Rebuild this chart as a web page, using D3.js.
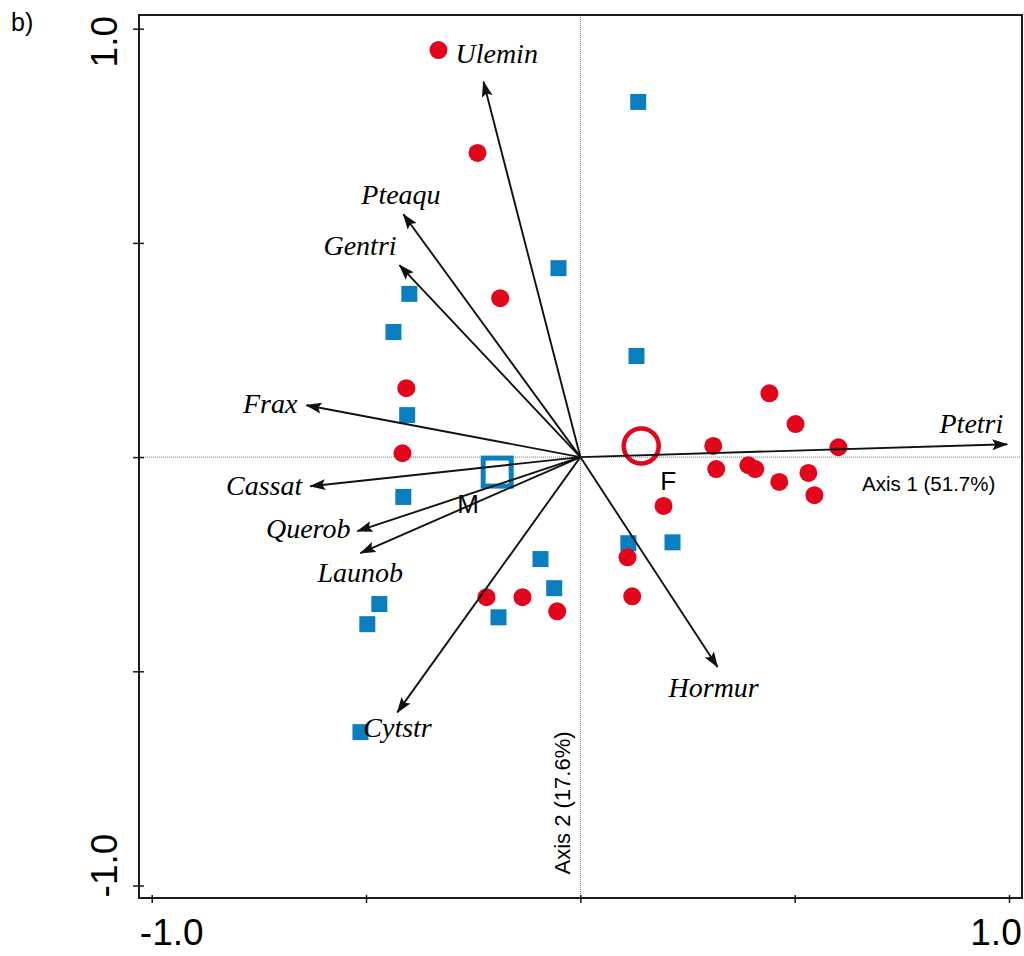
<!DOCTYPE html>
<html>
<head>
<meta charset="utf-8">
<script src="https://cdn.jsdelivr.net/npm/d3@7"></script>
<style>
  body { margin: 0; background: #fff; }
  svg { display: block; }
</style>
</head>
<body>
<svg id="chart" width="1024" height="956"></svg>
<script>
// species vectors (axis 1, axis 2)
const species = ["Ulemin", "Pteaqu", "Gentri", "Frax", "Cassat", "Querob", "Launob", "Cytstr", "Hormur", "Ptetri"];
const speciesX = [-0.226, -0.413, -0.422, -0.639, -0.630, -0.520, -0.513, -0.427, 0.320, 0.996];
const speciesY = [0.876, 0.567, 0.448, 0.121, -0.068, -0.173, -0.224, -0.596, -0.490, 0.030];

// plots, group F (red circles)
const fX = [-0.331, -0.240, -0.187, -0.406, -0.415, -0.219, -0.135, -0.054, 0.110, 0.121, 0.194,
            0.310, 0.317, 0.392, 0.408, 0.441, 0.502, 0.464, 0.532, 0.546, 0.602];
const fY = [0.950, 0.710, 0.371, 0.161, 0.009, -0.327, -0.327, -0.360, -0.234, -0.325, -0.114,
            0.026, -0.028, -0.019, -0.028, 0.149, 0.077, -0.058, -0.037, -0.089, 0.023];

// plots, group M (blue squares)
const mX = [0.135, -0.051, -0.399, -0.436, -0.404, 0.131, -0.413, 0.112, 0.215, -0.093, -0.061,
            -0.191, -0.469, -0.497, -0.513];
const mY = [0.829, 0.441, 0.381, 0.292, 0.098, 0.236, -0.093, -0.201, -0.199, -0.238, -0.306,
            -0.374, -0.343, -0.390, -0.642];

// group centroids
const centroids = [
  {name: "F", x: 0.142, y: 0.026},
  {name: "M", x: -0.194, y: -0.035}
];

const ticks = [-1, -0.5, 0, 0.5, 1];
const tickLabels = ["-1.0", "1.0"];

const red = "#e3051b";
const blue = "#0b7ec0";

const svg = d3.select("#chart");

const x = d3.scaleLinear().domain([-1, 1]).range([151.7, 1009]);
const y = d3.scaleLinear().domain([-1, 1]).range([885.5, 28.7]);

const frameL = 139, frameT = 15, frameR = 1022, frameB = 898;

svg.append("text")
    .attr("x", 11).attr("y", 31)
    .style("font-family", "Liberation Sans, Arial, sans-serif")
    .style("font-size", "25px")
    .text("b)");

// dotted zero lines
svg.append("line")
    .attr("x1", frameL).attr("x2", frameR)
    .attr("y1", y(0)).attr("y2", y(0))
    .attr("stroke", "#777").attr("stroke-width", 1).attr("stroke-dasharray", "1,1");
svg.append("line")
    .attr("x1", x(0)).attr("x2", x(0))
    .attr("y1", frameT).attr("y2", frameB)
    .attr("stroke", "#777").attr("stroke-width", 1).attr("stroke-dasharray", "1,1");

// frame
svg.append("rect")
    .attr("x", frameL).attr("y", frameT)
    .attr("width", frameR - frameL).attr("height", frameB - frameT)
    .attr("fill", "none").attr("stroke", "#1a1a1a").attr("stroke-width", 2);

// ticks
const yAxis = svg.append("g")
    .attr("transform", `translate(${frameL + 5},0)`)
    .call(d3.axisLeft(y).tickValues(ticks).tickSize(11).tickFormat(""));
yAxis.select(".domain").remove();
yAxis.selectAll("line").attr("stroke", "#1a1a1a").attr("stroke-width", 1.5);

const xAxis = svg.append("g")
    .attr("transform", `translate(0,${frameB - 3})`)
    .call(d3.axisBottom(x).tickValues(ticks).tickSize(8).tickFormat(""));
xAxis.select(".domain").remove();
xAxis.selectAll("line").attr("stroke", "#1a1a1a").attr("stroke-width", 1.5);

// tick labels
const labFont = "Liberation Sans, Arial, sans-serif";
[-1, 1].forEach((v, i) => {
  const shift = v < 0 ? 20 : -13;
  svg.append("text")
      .attr("x", x(v) + shift).attr("y", 945)
      .attr("text-anchor", "middle")
      .style("font-family", labFont).style("font-size", "37px")
      .text(tickLabels[i]);
  svg.append("text")
      .attr("transform", `translate(117,${y(v) + (v < 0 ? -20 : 13)}) rotate(-90)`)
      .attr("text-anchor", "middle")
      .style("font-family", labFont).style("font-size", "37px")
      .text(tickLabels[i]);
});

// axis titles
svg.append("text")
    .attr("x", 862).attr("y", 491)
    .style("font-family", labFont).style("font-size", "20.5px")
    .text("Axis 1 (51.7%)");
svg.append("text")
    .attr("transform", `translate(570,803) rotate(-90)`)
    .attr("text-anchor", "middle")
    .style("font-family", labFont).style("font-size", "22px")
    .text("Axis 2 (17.6%)");

// points
const fPts = fX.map((v, i) => ({x: v, y: fY[i]}));
const mPts = mX.map((v, i) => ({x: v, y: mY[i]}));

svg.append("g").selectAll("rect")
    .data(mPts)
    .join("rect")
    .attr("x", d => x(d.x) - 8)
    .attr("y", d => y(d.y) - 8)
    .attr("width", 16).attr("height", 16)
    .attr("fill", blue);

svg.append("g").selectAll("circle")
    .data(fPts)
    .join("circle")
    .attr("cx", d => x(d.x))
    .attr("cy", d => y(d.y))
    .attr("r", 9)
    .attr("fill", red);

// centroids
const cF = centroids[0], cM = centroids[1];
svg.append("circle")
    .attr("cx", x(cF.x)).attr("cy", y(cF.y)).attr("r", 17.5)
    .attr("fill", "none").attr("stroke", red).attr("stroke-width", 4.5);
svg.append("rect")
    .attr("x", x(cM.x) - 14).attr("y", y(cM.y) - 14)
    .attr("width", 28).attr("height", 28)
    .attr("fill", "none").attr("stroke", blue).attr("stroke-width", 5);

svg.append("text")
    .attr("x", x(cF.x) + 19).attr("y", y(cF.y) + 44)
    .style("font-family", labFont).style("font-size", "26px")
    .text(cF.name);
svg.append("text")
    .attr("x", x(cM.x) - 40).attr("y", y(cM.y) + 41)
    .style("font-family", labFont).style("font-size", "26px")
    .text(cM.name);

// arrows
svg.append("defs").append("marker")
    .attr("id", "head")
    .attr("viewBox", "0 -6 16 12")
    .attr("refX", 15).attr("refY", 0)
    .attr("markerUnits", "userSpaceOnUse")
    .attr("markerWidth", 16).attr("markerHeight", 12)
    .attr("orient", "auto")
    .append("path")
    .attr("d", "M0,-5.5L16,0L0,5.5L3,0Z")
    .attr("fill", "#111");

const vecs = species.map((s, i) => ({name: s, x: speciesX[i], y: speciesY[i]}));

svg.append("g").selectAll("line")
    .data(vecs)
    .join("line")
    .attr("x1", x(0)).attr("y1", y(0))
    .attr("x2", d => x(d.x)).attr("y2", d => y(d.y))
    .attr("stroke", "#111").attr("stroke-width", 1.9)
    .attr("marker-end", "url(#head)");

// label placement relative to arrow tips
const labelOffset = {
  Ulemin: [-28, -19, "start"],
  Pteaqu: [-42, -10, "start"],
  Gentri: [-76, -10, "start"],
  Frax: [-9, 8, "end"],
  Cassat: [-8, 9, "end"],
  Querob: [-7, 7, "end"],
  Launob: [-43, 29, "start"],
  Cytstr: [-34, 25, "start"],
  Hormur: [-49, 30, "start"],
  Ptetri: [-4, -11, "end"]
};

svg.append("g").selectAll("text")
    .data(vecs)
    .join("text")
    .attr("x", d => x(d.x) + labelOffset[d.name][0])
    .attr("y", d => y(d.y) + labelOffset[d.name][1])
    .attr("text-anchor", d => labelOffset[d.name][2])
    .style("font-family", "Liberation Serif, Times New Roman, serif")
    .style("font-style", "italic")
    .style("font-size", "28px")
    .text(d => d.name);
</script>
</body>
</html>
